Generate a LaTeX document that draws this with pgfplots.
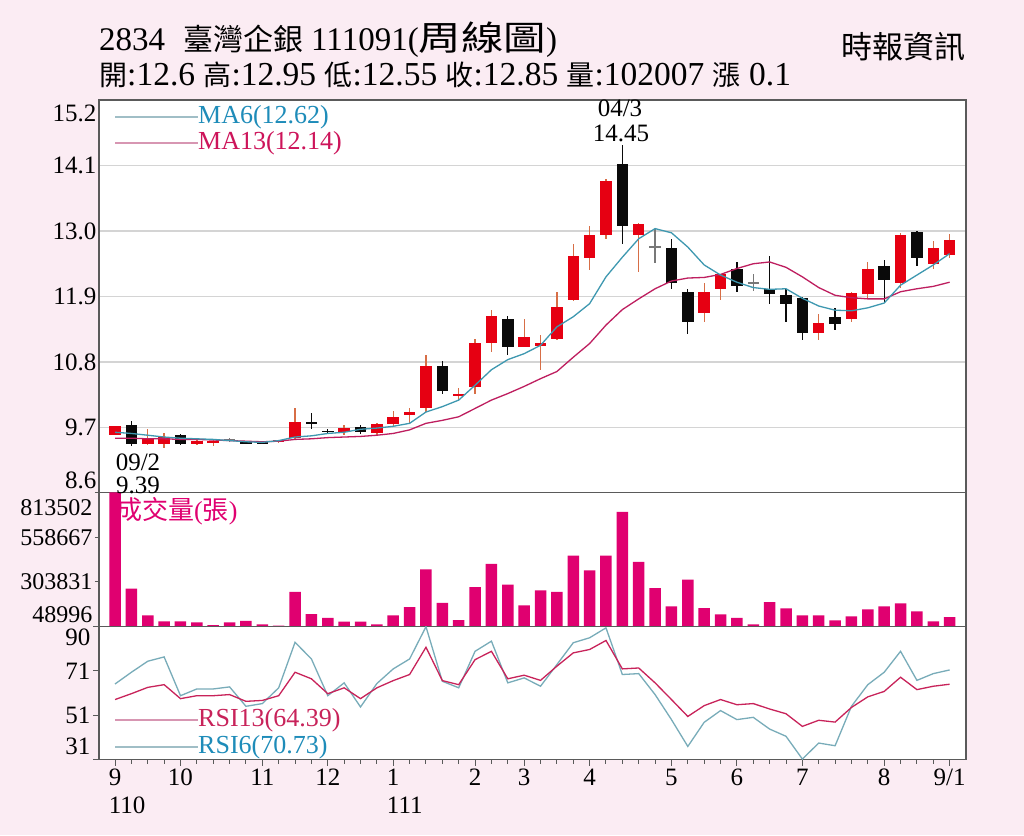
\documentclass[border=0pt]{standalone}
\usepackage{fontspec}
\setmainfont{Liberation Serif}
\newfontfamily\cjk{Noto Sans CJK TC}
\newfontfamily\cjkwide[FakeStretch=1.25]{Noto Sans CJK TC}
\usepackage{pgfplots}
\pgfplotsset{compat=1.18}
\usepackage{pgfplotstable}

\definecolor{bgpink}{RGB}{251,236,243}
\definecolor{upred}{RGB}{230,0,18}
\definecolor{wickup}{RGB}{215,110,70}
\definecolor{downblk}{RGB}{10,10,10}
\definecolor{dojigray}{RGB}{120,120,120}
\definecolor{volmag}{RGB}{224,0,112}
\definecolor{ma6c}{RGB}{62,152,176}
\definecolor{ma13c}{RGB}{190,30,95}
\definecolor{ma6t}{RGB}{30,140,185}
\definecolor{ma13t}{RGB}{205,20,90}
\definecolor{ma6leg}{RGB}{160,190,198}
\definecolor{ma13leg}{RGB}{215,150,178}
\definecolor{rsi6c}{RGB}{120,172,185}
\definecolor{rsi13c}{RGB}{200,35,90}
\definecolor{gridc}{RGB}{212,212,212}
\definecolor{framec}{RGB}{90,90,90}

\newcommand{\tickf}{\fontsize{25}{28}\selectfont}
\newcommand{\volf}{\fontsize{24}{28}\selectfont}
\newcommand{\legf}{\fontsize{26}{30}\selectfont}
\newcommand{\hlat}{\fontsize{33}{38}\selectfont}
\newcommand{\hcjk}{\fontsize{30}{36}\selectfont\cjk}
\newcommand{\slat}{\fontsize{33.5}{38}\selectfont}
\newcommand{\scjk}{\fontsize{28}{34}\selectfont\cjk}

% weekly candles: index, open, high, low, close
\pgfplotstableread{
i o h l c
0 9.58 9.72 9.57 9.72
2 9.42 9.67 9.40 9.52
3 9.42 9.60 9.36 9.54
5 9.43 9.50 9.40 9.47
6 9.46 9.50 9.39 9.46
10 9.45 9.49 9.44 9.49
11 9.52 10.02 9.50 9.79
14 9.62 9.74 9.58 9.70
16 9.60 9.78 9.58 9.76
17 9.76 9.97 9.73 9.87
18 9.91 10.02 9.77 9.96
19 10.02 10.91 9.96 10.73
21 10.23 10.37 10.16 10.27
22 10.38 11.18 10.27 11.12
23 11.12 11.67 10.97 11.57
25 11.06 11.53 11.05 11.22
26 11.07 11.25 10.67 11.12
27 11.18 11.98 11.17 11.72
28 11.84 12.78 11.83 12.58
29 12.54 13.08 12.34 12.93
30 12.93 13.88 12.87 13.84
32 12.93 13.13 12.31 13.12
36 11.62 12.12 11.47 11.98
37 12.03 12.28 11.84 12.27
43 11.28 11.61 11.17 11.46
45 11.53 11.98 11.47 11.96
46 11.94 12.48 11.88 12.37
48 12.13 12.97 12.05 12.93
50 12.44 12.83 12.37 12.72
51 12.60 12.95 12.55 12.85
}\upc

\pgfplotstableread{
i o h l c
1 9.74 9.81 9.39 9.43
4 9.57 9.59 9.40 9.43
8 9.46 9.48 9.42 9.43
9 9.44 9.47 9.42 9.44
12 9.79 9.95 9.68 9.76
13 9.64 9.67 9.60 9.63
15 9.71 9.74 9.59 9.62
20 10.73 10.82 10.26 10.31
24 11.53 11.57 10.91 11.06
31 14.13 14.45 12.78 13.08
34 12.72 12.87 12.02 12.13
35 11.98 12.03 11.27 11.47
38 12.37 12.48 11.98 12.07
40 12.02 12.58 11.77 11.94
41 11.92 12.03 11.47 11.78
42 11.87 11.89 11.17 11.28
44 11.56 11.71 11.33 11.43
47 12.42 12.52 11.81 12.18
49 12.98 13.00 12.42 12.54
}\downc

\pgfplotstableread{
i o h l c
7 9.50 9.52 9.46 9.50
33 12.73 13.04 12.46 12.73
39 12.13 12.27 12.00 12.13
}\dojic

\pgfplotstableread{
i ma6 ma13
0 9.62 9.52
1 9.60 9.52
2 9.57 9.51
3 9.54 9.51
4 9.52 9.50
5 9.51 9.50
6 9.50 9.49
7 9.48 9.48
8 9.46 9.47
9 9.45 9.46
10 9.48 9.47
11 9.54 9.50
12 9.56 9.51
13 9.60 9.53
14 9.62 9.54
15 9.67 9.55
16 9.69 9.57
17 9.72 9.60
18 9.77 9.66
19 9.96 9.77
20 10.05 9.82
21 10.16 9.88
22 10.41 10.02
23 10.67 10.16
24 10.84 10.27
25 10.94 10.39
26 11.08 10.52
27 11.39 10.64
28 11.56 10.88
29 11.78 11.11
30 12.23 11.42
31 12.56 11.68
32 12.87 11.86
33 13.04 12.03
34 12.97 12.16
35 12.73 12.21
36 12.43 12.22
37 12.26 12.27
38 12.14 12.37
39 12.05 12.45
40 12.02 12.48
41 12.03 12.39
42 11.87 12.23
43 11.74 12.05
44 11.67 11.92
45 11.66 11.88
46 11.71 11.86
47 11.79 11.86
48 12.09 11.98
49 12.26 12.03
50 12.43 12.07
51 12.62 12.14
}\ma

\pgfplotstableread{
i v
0 813502
1 265300
2 112400
3 78400
4 78400
5 72800
6 57500
7 72800
8 81800
9 61500
10 53500
11 246100
12 119800
13 98800
14 76200
15 76200
16 61500
17 112400
18 159400
19 374600
20 183700
21 85800
22 274300
23 406900
24 287900
25 169600
26 255700
27 246100
28 453900
29 368900
30 453900
31 703100
32 418200
33 268600
34 163400
35 316300
36 153800
37 118100
38 98800
39 61500
40 187700
41 152000
42 112400
43 112400
44 84100
45 106800
46 146400
47 163400
48 180400
49 135100
50 78400
51 102007
}\vol

\pgfplotstableread{
i r6 r13
0 64.5 57.6
1 69.7 60.2
2 74.6 63.0
3 76.5 64.2
4 59.3 58.0
5 62.3 59.3
6 62.3 59.3
7 63.2 59.8
8 54.6 56.8
9 55.8 57.2
10 62.8 59.3
11 83.0 69.7
12 75.6 66.8
13 59.3 60.2
14 65.0 62.8
15 54.3 58.0
16 64.7 62.8
17 71.2 66.0
18 75.6 68.7
19 89.9 80.8
20 65.7 66.0
21 62.8 64.2
22 79.0 75.3
23 83.5 79.0
24 65.0 66.8
25 67.2 68.4
26 63.5 66.1
27 73.1 72.4
28 82.8 78.3
29 85.0 79.8
30 89.4 83.8
31 68.7 71.2
32 69.1 71.6
33 59.8 65.0
34 48.7 57.6
35 36.8 50.1
36 47.5 54.9
37 52.7 57.6
38 48.7 55.3
39 49.7 55.8
40 44.5 53.4
41 41.3 51.3
42 31.2 45.7
43 38.3 48.4
44 37.1 47.6
45 54.6 54.1
46 64.2 58.8
47 69.7 61.2
48 79.0 67.5
49 66.1 62.0
50 69.1 63.5
51 70.73 64.39
}\rsi

\pgfplotsset{
  panel/.style={
    scale only axis, width=867pt, anchor=south west,
    xmin=-0.98, xmax=52,
    axis line style={framec, line width=1.2pt},
    axis background/.style={fill=white},
    yticklabel style={font=\tickf, inner sep=0pt, xshift=-2.5pt},
    ytick pos=left, xtick pos=bottom,
    tick style={framec, line width=1pt},
  },
  wick/.style={draw=none, mark=none, forget plot,
    error bars/.cd, y dir=both, y explicit, error mark=none,
    error bar style={draw=#1, line width=1.3pt}},
  body/.style={draw=none, mark=none, forget plot,
    error bars/.cd, y dir=both, y explicit, error mark=none,
    error bar style={draw=#1, line width=11.5pt}},
}

\begin{document}
\begin{tikzpicture}
\path[use as bounding box, fill=bgpink] (0pt,0pt) rectangle (1024pt,835pt);

% price panel
\begin{axis}[panel, at={(99pt,342pt)}, height=393pt,
  ymin=8.6, ymax=15.2, xtick=\empty,
  ytick={8.6,9.7,10.8,11.9,13.0,14.1,15.2},
  yticklabels={{\raisebox{13pt}[\height][\depth]{8.6}},9.7,10.8,11.9,13.0,14.1,{\raisebox{-13pt}[\height][\depth]{15.2}}},
  ymajorgrids, major grid style={gridc, line width=1.2pt},
  major tick length=0pt, clip=false]
\addplot[wick=wickup] table[x=i, y expr={(\thisrow{h}+\thisrow{l})/2}, y error expr={(\thisrow{h}-\thisrow{l})/2}] {\upc};
\addplot[wick=downblk] table[x=i, y expr={(\thisrow{h}+\thisrow{l})/2}, y error expr={(\thisrow{h}-\thisrow{l})/2}] {\downc};
\addplot[wick=dojigray] table[x=i, y expr={(\thisrow{h}+\thisrow{l})/2}, y error expr={(\thisrow{h}-\thisrow{l})/2}] {\dojic};
\addplot[body=upred] table[x=i, y expr={(\thisrow{o}+\thisrow{c})/2}, y error expr={max(abs(\thisrow{c}-\thisrow{o})/2,0.011)}] {\upc};
\addplot[body=downblk] table[x=i, y expr={(\thisrow{o}+\thisrow{c})/2}, y error expr={max(abs(\thisrow{c}-\thisrow{o})/2,0.011)}] {\downc};
\addplot[body=dojigray] table[x=i, y expr={(\thisrow{o}+\thisrow{c})/2}, y error expr={max(abs(\thisrow{c}-\thisrow{o})/2,0.011)}] {\dojic};
\addplot[ma13c, line width=1.3pt, mark=none] table[x=i, y=ma13] {\ma};
\addplot[ma6c, line width=1.3pt, mark=none] table[x=i, y=ma6] {\ma};
\end{axis}

% volume panel
\begin{axis}[panel, at={(99pt,208.5pt)}, height=134pt,
  ymin=48996, ymax=813502, xtick=\empty, scaled y ticks=false,
  ytick={48996,303831,558667,813502},
  yticklabels={{\raisebox{12pt}[\height][\depth]{48996}},303831,558667,{\raisebox{-15pt}[\height][\depth]{813502}}},
  yticklabel style={font=\volf},
  major tick length=4pt, tick align=outside]
\addplot[ybar, bar width=11.5pt, fill=volmag, draw=none] table[x=i, y=v] {\vol};
\end{axis}

% RSI panel
\begin{axis}[panel, at={(99pt,75.5pt)}, height=133pt,
  ymin=31, ymax=90,
  ytick={31,50.67,70.33,90},
  yticklabels={{\raisebox{13pt}[\height][\depth]{31}},51,71,{\raisebox{-11pt}[\height][\depth]{90}}},
  xtick={0,4,9,13,17,22,25,29,34,38,42,47,51},
  xticklabels={{9\\\rlap{110}\phantom{9}},10,11,12,{1\\\rlap{111}\phantom{1}},2,3,4,5,6,7,8,9/1},
  minor xtick={0,...,51},
  xticklabel style={font=\tickf, align=center, inner sep=0pt, yshift=-3pt},
  tick align=outside, major tick length=6pt, minor tick length=4pt]
\addplot[rsi6c, line width=1.3pt, mark=none] table[x=i, y=r6] {\rsi};
\addplot[rsi13c, line width=1.3pt, mark=none] table[x=i, y=r13] {\rsi};
\end{axis}

% header, line 1
\begin{scope}[every node/.style={anchor=base west, inner sep=0pt}]
\node[font=\hlat] at (99pt,784pt) {2834};
\node[font=\hcjk] at (183pt,784pt) {臺灣企銀};
\node[font=\hlat] at (311pt,784pt)
  {111091({\fontsize{34}{38}\selectfont\cjkwide 周線圖})};
% header, line 2
\node[font=\slat] at (99pt,749pt)
  {{\scjk 開}:12.6 {\scjk 高}:12.95 {\scjk 低}:12.55 {\scjk 收}:12.85 {\scjk 量}:102007 {\scjk 漲} 0.1};
\end{scope}
\node[anchor=east, inner sep=0pt, font=\fontsize{31}{36}\selectfont\cjk] at (966pt,788pt) {時報資訊};

% legends
\draw[ma6leg, line width=1.2pt] (115pt,718pt) -- (198pt,718pt);
\node[anchor=west, inner sep=0pt, text=ma6t, font=\legf] at (198pt,718pt) {MA6(12.62)};
\draw[ma13leg, line width=1.2pt] (115pt,692pt) -- (198pt,692pt);
\node[anchor=west, inner sep=0pt, text=ma13t, font=\legf] at (198pt,692pt) {MA13(12.14)};
\node[anchor=west, inner sep=0pt, text=volmag, font=\legf] at (116pt,324pt) {{\cjk 成交量}({\cjk 張})};
\draw[ma13leg, line width=1.2pt] (115pt,115pt) -- (198pt,115pt);
\node[anchor=west, inner sep=0pt, text=rsi13c, font=\legf] at (198pt,115pt) {RSI13(64.39)};
\draw[ma6leg, line width=1.2pt] (115pt,88pt) -- (198pt,88pt);
\node[anchor=west, inner sep=0pt, text=ma6t, font=\legf] at (198pt,88pt) {RSI6(70.73)};

% extreme annotations
\node[inner sep=0pt, font=\tickf] at (138pt,373pt) {09/2};
\node[inner sep=0pt, font=\tickf] at (138pt,350pt) {9.39};
\node[inner sep=0pt, font=\tickf] at (620pt,727pt) {04/3};
\node[inner sep=0pt, font=\tickf] at (621pt,702pt) {14.45};
\end{tikzpicture}
\end{document}
